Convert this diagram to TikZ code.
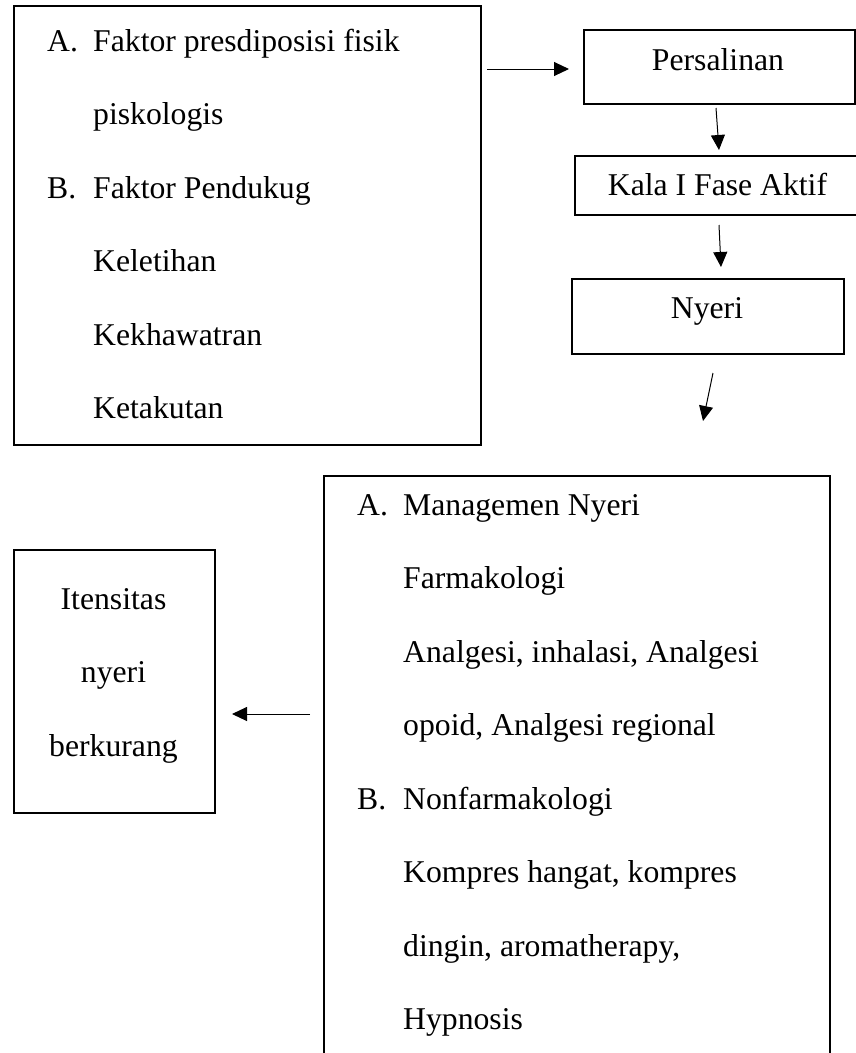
\documentclass[tikz,border=0pt]{standalone}
\usepackage{fontspec}
\setmainfont{Liberation Serif}
\usetikzlibrary{arrows.meta}
\tikzset{
  boxshape/.style={draw, line width=2pt, inner sep=0pt, anchor=north west},
  txt/.style={inner sep=0pt, font=\fontsize{31.7}{38}\selectfont},
  conn/.style={line width=1pt, -{Triangle[length=15pt,width=14pt]}}
}
\begin{document}
\begin{tikzpicture}[x=1pt,y=-1pt]
\clip (0,0) rectangle (856,1053);
% boxes
\node[boxshape, minimum width=467pt, minimum height=439pt] (f) at (13,5) {};
\node[boxshape, minimum width=271pt, minimum height=74pt] (p) at (583,29) {};
\node[boxshape, minimum width=287pt, minimum height=59pt] (k) at (574,155) {};
\node[boxshape, minimum width=272pt, minimum height=75pt] (n) at (571,278) {};
\node[boxshape, minimum width=506pt, minimum height=600pt] (m) at (323,475) {};
\node[boxshape, minimum width=201pt, minimum height=263pt] (i) at (13,549) {};
% texts box 1
\node[txt, anchor=base west] (fa) at (47,51) {A.};
\node[txt, anchor=base west] (f1) at (93,51) {Faktor presdiposisi fisik};
\node[txt, anchor=base west] (f2) at (93,124.5) {piskologis};
\node[txt, anchor=base west] (fb) at (47,198) {B.};
\node[txt, anchor=base west] (f3) at (93,198) {Faktor Pendukug};
\node[txt, anchor=base west] (f4) at (93,271.5) {Keletihan};
\node[txt, anchor=base west] (f5) at (93,345) {Kekhawatran};
\node[txt, anchor=base west] (f6) at (93,418.5) {Ketakutan};
% right chain texts
\node[txt, anchor=base] (pt) at (718,70) {Persalinan};
\node[txt, anchor=base] (kt) at (717.5,195) {Kala I Fase Aktif};
\node[txt, anchor=base] (nt) at (707,318) {Nyeri};
% bottom box texts
\node[txt, anchor=base west] (ma) at (357,515) {A.};
\node[txt, anchor=base west] (m1) at (403,515) {Managemen Nyeri};
\node[txt, anchor=base west] (m2) at (403,588.5) {Farmakologi};
\node[txt, anchor=base west] (m3) at (403,662) {Analgesi, inhalasi, Analgesi};
\node[txt, anchor=base west] (m4) at (403,735.5) {opoid, Analgesi regional};
\node[txt, anchor=base west] (mb) at (357,809) {B.};
\node[txt, anchor=base west] (m5) at (403,809) {Nonfarmakologi};
\node[txt, anchor=base west] (m6) at (403,882.5) {Kompres hangat, kompres};
\node[txt, anchor=base west] (m7) at (403,956) {dingin, aromatherapy,};
\node[txt, anchor=base west] (m8) at (403,1029.5) {Hypnosis};
% itensitas texts
\node[txt, anchor=base] (i1) at (113.5,609) {Itensitas};
\node[txt, anchor=base] (i2) at (113.5,682.5) {nyeri};
\node[txt, anchor=base] (i3) at (113.5,756) {berkurang};
% connector end points
\coordinate (a1s) at (487,69);
\coordinate (a1e) at (569,69);
\coordinate (a2s) at (716,108);
\coordinate (a2e) at (719,150);
\coordinate (a3s) at (719,225);
\coordinate (a3e) at (721,267);
\coordinate (a4s) at (713,373);
\coordinate (a4e) at (703,421);
\coordinate (a5s) at (310,714);
\coordinate (a5e) at (232,714);
\draw[conn] (a1s) -- (a1e);
\draw[conn] (a2s) -- (a2e);
\draw[conn] (a3s) -- (a3e);
\draw[conn] (a4s) -- (a4e);
\draw[conn] (a5s) -- (a5e);
\end{tikzpicture}
\end{document}
